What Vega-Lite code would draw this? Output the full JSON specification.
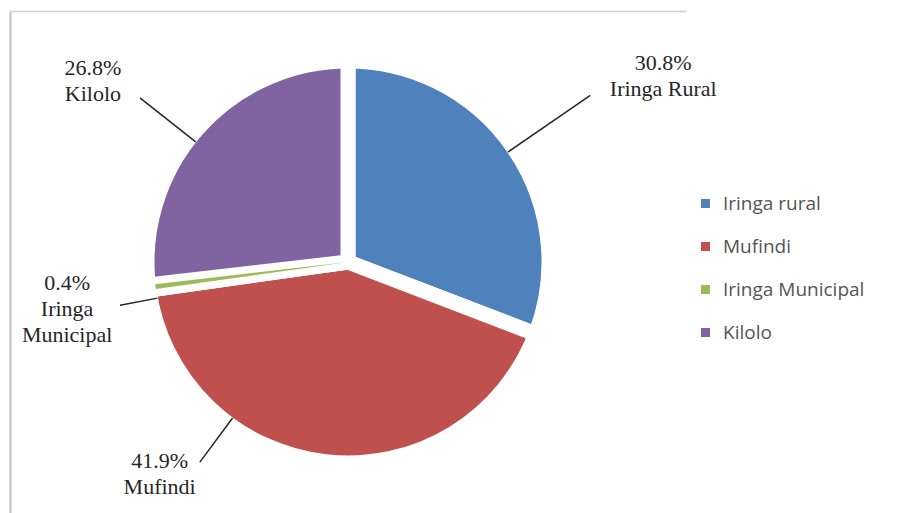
{
  "$schema": "https://vega.github.io/schema/vega-lite/v6.json",
  "width": 676,
  "height": 502,
  "padding": {"left": 10, "top": 11, "right": 0, "bottom": 0},
  "background": "white",
  "config": {"view": {"stroke": null}},
  "data": {
    "values": [
      {"District": "Iringa rural", "Label": "30.8%\nIringa Rural", "pct": 30.8},
      {"District": "Mufindi", "Label": "41.9%\nMufindi", "pct": 41.9},
      {"District": "Iringa Municipal", "Label": "0.4%\nIringa\nMunicipal", "pct": 0.4},
      {"District": "Kilolo", "Label": "26.8%\nKilolo", "pct": 26.8}
    ]
  },
  "transform": [
    {"window": [{"op": "row_number", "as": "idx"}]},
    {"stack": "pct", "groupby": [], "sort": [{"field": "idx", "order": "ascending"}], "as": ["start", "end"]},
    {"calculate": "(datum.start + datum.end) / 2", "as": "mid"}
  ],
  "layer": [
    {
      "mark": {"type": "point", "opacity": 0},
      "encoding": {
        "x": {"field": "pct", "type": "quantitative", "axis": {"orient": "top", "domainColor": "#d0d0d0", "domainWidth": 1.5, "ticks": false, "labels": false, "grid": false, "title": null}},
        "y": {"field": "pct", "type": "quantitative", "axis": {"orient": "left", "domainColor": "#c0c0c0", "domainWidth": 2, "ticks": false, "labels": false, "grid": false, "title": null}}
      }
    },
    {
      "mark": {"type": "arc", "radius": 201, "stroke": "white", "strokeWidth": 15, "strokeJoin": "round"},
      "encoding": {
        "theta": {"field": "start", "type": "quantitative", "stack": null, "scale": {"domain": [0, 99.9]}},
        "theta2": {"field": "end"},
        "color": {
          "field": "District",
          "type": "nominal",
          "scale": {"domain": ["Iringa rural", "Mufindi", "Iringa Municipal", "Kilolo"], "range": ["#4F81BD", "#C0504D", "#9BBB59", "#8064A2"]},
          "legend": {"orient": "none", "legendX": 686, "legendY": 183, "title": null, "symbolType": "square", "symbolSize": 81, "symbolStrokeWidth": 0, "labelFont": "Open Sans", "labelFontSize": 19, "labelColor": "#555555", "rowPadding": 23, "labelOffset": 8}
        }
      }
    },
    {
      "transform": [{"filter": "datum.District === 'Iringa Municipal'"}],
      "mark": {"type": "arc", "radius": 194},
      "encoding": {
        "theta": {"field": "start", "type": "quantitative", "stack": null},
        "theta2": {"field": "end"},
        "color": {"field": "District", "type": "nominal"}
      }
    },
    {
      "mark": {
        "type": "arc",
        "filled": false,
        "stroke": "#262626",
        "strokeWidth": 1.5,
        "radius2": 194,
        "radius": {"expr": "datum.District === 'Iringa rural' ? 294 : datum.District === 'Kilolo' ? 265 : datum.District === 'Iringa Municipal' ? 232 : 249"},
        "thetaOffset": {"expr": "datum.District === 'Mufindi' ? 0.524 : datum.District === 'Rural' ? 0 : datum.District === 'Iringa rural' ? 0 : -0.06"},
        "theta2Offset": {"expr": "datum.District === 'Mufindi' ? 0.524 : datum.District === 'Iringa rural' ? 0 : -0.06"}
      },
      "encoding": {
        "theta": {"field": "mid", "type": "quantitative", "stack": null},
        "theta2": {"field": "mid"}
      }
    },
    {
      "mark": {
        "type": "text",
        "font": "Liberation Serif",
        "fontSize": 22,
        "lineBreak": "\n",
        "lineHeight": 26,
        "align": "center",
        "baseline": "middle",
        "color": "#262626",
        "dx": {"expr": "datum.District === 'Iringa rural' ? 101 : datum.District === 'Kilolo' ? -61 : datum.District === 'Iringa Municipal' ? -23 : -159"},
        "dy": {"expr": "datum.District === 'Iringa rural' ? -52 : datum.District === 'Kilolo' ? -21 : datum.District === 'Iringa Municipal' ? -12 : -59"}
      },
      "encoding": {
        "theta": {"field": "mid", "type": "quantitative", "stack": null},
        "radius": {"value": 260},
        "text": {"field": "Label"}
      }
    }
  ]
}
